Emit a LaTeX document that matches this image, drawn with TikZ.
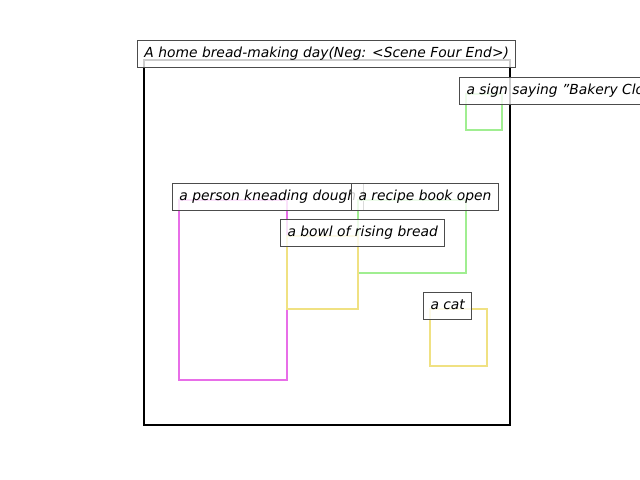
\documentclass[tikz,border=0pt]{standalone}
\usepackage{fontspec}
\setmainfont{DejaVu Sans}
\usepackage{xcolor}
\usepackage{tikz}

\definecolor{boxpink}{RGB}{232,110,232}
\definecolor{boxgreen}{RGB}{160,238,145}
\definecolor{boxyellow}{RGB}{240,225,130}

\begin{document}
\begin{tikzpicture}[x=0.01in, y=-0.01in,
    lbl/.style={draw=black!70, line width=0.72pt, fill=white, fill opacity=0.8, text opacity=1,
        font=\itshape\fontsize{10}{12}\selectfont, inner xsep=5.04pt, inner ysep=0pt,
        text height=12.96pt, text depth=7.2pt, anchor=base west, xshift=-5.04pt},
    region/.style={line width=1.7pt}]
\useasboundingbox (0,0) rectangle (640,480);
\clip (0,0) rectangle (640,480);
\draw[line width=1.7pt] (144,60) rectangle (510,425);
\node[lbl] (title) at (144,58) {A home bread-making day(Neg: <Scene Four End>)};
% regions with their captions
\draw[region, boxgreen] (466,94) rectangle (502,130);
\node[lbl] (sign) at (466,95) {a sign saying {\char34}Bakery Closed{\char34}};
\draw[region, boxpink] (179,200) rectangle (287,380);
\node[lbl] (person) at (179,201) {a person kneading dough};
\draw[region, boxgreen] (358,200) rectangle (466,273);
\node[lbl] (recipe) at (358,201) {a recipe book open};
\draw[region, boxyellow] (287,236) rectangle (358,309);
\node[lbl] (bowl) at (287,237) {a bowl of rising bread};
\draw[region, boxyellow] (430,309) rectangle (487,366);
\node[lbl] (cat) at (430,310) {a cat};
\end{tikzpicture}
\end{document}
